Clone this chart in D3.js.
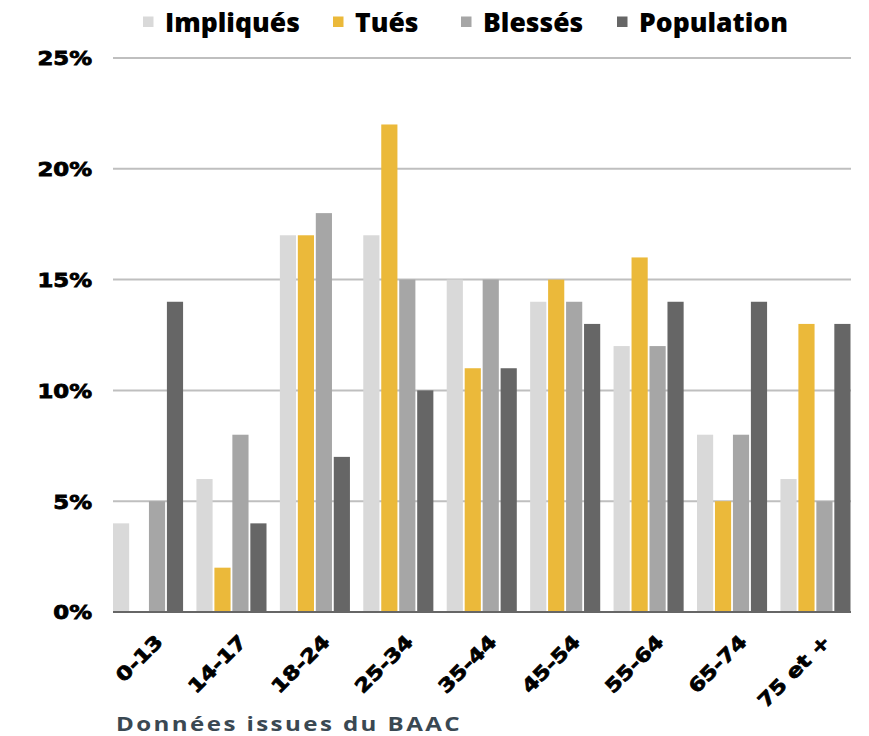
<!DOCTYPE html>
<html>
<head>
<meta charset="utf-8">
<script src="https://cdn.jsdelivr.net/npm/d3@7"></script>
<style>
  html, body { margin: 0; padding: 0; background: #ffffff; }
  svg { display: block; }
</style>
</head>
<body>
<svg id="chart" width="869" height="736"></svg>
<script>
// ---- Data ----
const categories = ["0-13", "14-17", "18-24", "25-34", "35-44", "45-54", "55-64", "65-74", "75 et +"];
const seriesNames = ["Impliqués", "Tués", "Blessés", "Population"];
const impliques  = [4, 6, 17, 17, 15, 14, 12, 8, 6];
const tues       = [0, 2, 17, 22, 11, 15, 16, 5, 13];
const blesses    = [5, 8, 18, 15, 15, 14, 12, 8, 5];
const population = [14, 4, 7, 10, 11, 13, 14, 14, 13];
const yTicks = [0, 5, 10, 15, 20, 25];
const sourceText = "Données issues du BAAC";

const seriesValues = [impliques, tues, blesses, population];
const colors = ["#d9d9d9", "#ebb93a", "#a6a6a6", "#666666"];

const svg = d3.select("#chart");

const plotLeft = 113, plotRight = 851, plotTop = 58, plotBottom = 612;

const x0 = d3.scaleBand()
  .domain(categories)
  .range([plotLeft, 850.5])
  .paddingInner(0.16)
  .paddingOuter(0);

const x1 = d3.scaleBand()
  .domain(seriesNames)
  .range([0, x0.bandwidth()])
  .paddingInner(0.1)
  .paddingOuter(0);

const y = d3.scaleLinear().domain([0, 25]).range([plotBottom, plotTop]);

// Gridlines
svg.append("g")
  .selectAll("line")
  .data(yTicks.filter(d => d > 0))
  .join("line")
  .attr("x1", plotLeft).attr("x2", plotRight)
  .attr("y1", d => y(d)).attr("y2", d => y(d))
  .attr("stroke", "#bfbfbf").attr("stroke-width", 2);

// Y axis labels
const yAxis = d3.axisLeft(y).tickValues(yTicks).tickFormat(d => d + "%").tickSize(0).tickPadding(0);
const yG = svg.append("g").attr("transform", `translate(92,0)`).call(yAxis);
yG.select(".domain").remove();
yG.selectAll("text")
  .attr("font-family", "DejaVu Sans")
  .attr("font-weight", "bold")
  .attr("font-size", 19)
  .attr("fill", "#000")
  .attr("stroke", "#000")
  .attr("stroke-width", 0.8)
  .attr("dy", "0.36em")
  .attr("x", 0)
  .attr("text-anchor", "end")
  .attr("transform", "scale(1.2,1)");

// Bars
const groups = svg.append("g")
  .selectAll("g")
  .data(categories)
  .join("g")
  .attr("transform", d => `translate(${x0(d)},0)`);

groups.selectAll("rect")
  .data((c, i) => seriesNames.map((s, j) => ({ s, j, v: seriesValues[j][i] })))
  .join("rect")
  .attr("x", d => x1(d.s))
  .attr("width", x1.bandwidth())
  .attr("y", d => y(d.v))
  .attr("height", d => plotBottom - y(d.v))
  .attr("fill", d => colors[d.j]);

// Baseline
svg.append("line")
  .attr("x1", plotLeft).attr("x2", plotRight)
  .attr("y1", plotBottom).attr("y2", plotBottom)
  .attr("stroke", "#666666").attr("stroke-width", 2);

// X axis labels
const xAxis = d3.axisBottom(x0).tickSize(0).tickPadding(0);
const xG = svg.append("g").attr("transform", `translate(0,${plotBottom})`).call(xAxis);
xG.select(".domain").remove();
xG.selectAll(".tick text")
  .attr("font-family", "DejaVu Sans")
  .attr("font-weight", "bold")
  .attr("font-size", 19)
  .attr("fill", "#000")
  .attr("stroke", "#000")
  .attr("stroke-width", 0.8)
  .attr("text-anchor", "end")
  .attr("dy", 0)
  .attr("y", 0)
  .attr("transform", "translate(16,31) rotate(-45) scale(1.2,1)");

// Legend
const legendTextX = [165, 355, 483, 639];
const legend = svg.append("g");
seriesNames.forEach((name, i) => {
  legend.append("rect")
    .attr("x", legendTextX[i] - 22).attr("y", 16.5)
    .attr("width", 10.5).attr("height", 10.5)
    .attr("fill", colors[i]);
  legend.append("text")
    .attr("x", legendTextX[i]).attr("y", 32)
    .attr("font-family", "Open Sans")
    .attr("font-weight", 800)
    .attr("font-size", 26.5)
    .attr("fill", "#000")
    .text(name);
});

// Source note
svg.append("text")
  .attr("x", 116).attr("y", 731)
  .attr("font-family", "Open Sans")
  .attr("font-weight", 700)
  .attr("font-size", 20)
  .attr("letter-spacing", 2)
  .attr("fill", "#3a4852")
  .attr("textLength", 346)
  .attr("lengthAdjust", "spacingAndGlyphs")
  .text(sourceText);
</script>
</body>
</html>
